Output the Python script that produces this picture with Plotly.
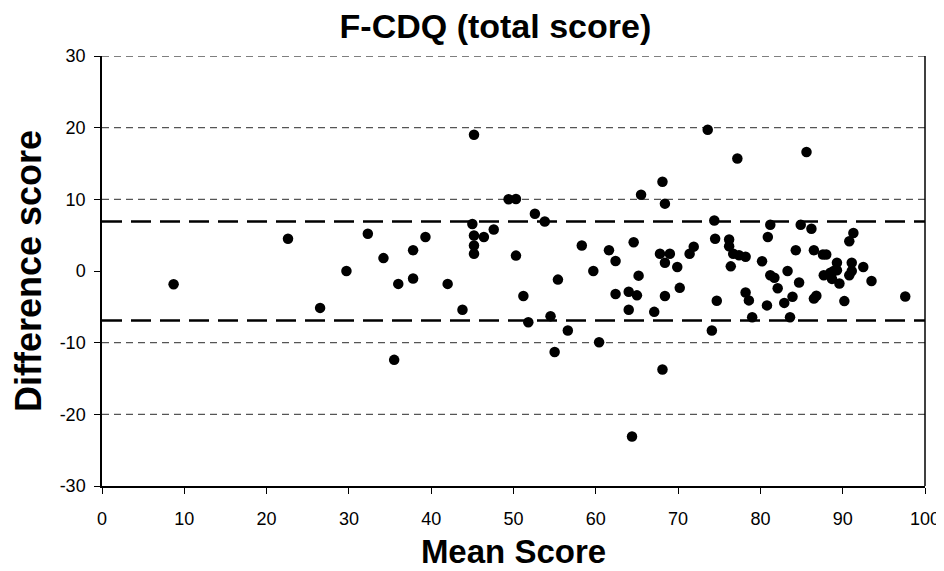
import plotly.graph_objects as go

mean_score = [8.7, 22.6, 26.5, 29.7, 32.3, 34.2, 35.5, 36.0, 37.8, 37.8, 39.3, 42.0, 43.8,
              45.0, 45.2, 45.2, 45.2, 45.2, 46.4, 47.6, 49.4, 50.3, 50.3, 51.2, 51.8, 52.6,
              53.8, 54.5, 55.0, 55.4, 56.6, 58.3, 59.7, 60.4, 61.6, 62.4, 62.4, 64.0, 64.0,
              64.4, 64.6, 65.0, 65.2, 65.5, 67.1, 67.8, 68.1, 68.1, 68.4, 68.4, 68.4, 69.0,
              69.9, 70.2, 71.4, 71.9, 73.6, 74.1, 74.4, 74.5, 74.7, 76.2, 76.2, 76.4, 76.7,
              77.2, 77.4, 78.2, 78.2, 78.6, 79.0, 80.2, 80.8, 80.9, 81.2, 81.2, 81.7, 82.1,
              82.9, 83.3, 83.6, 83.9, 84.3, 84.7, 84.9, 85.6, 86.2, 86.5, 86.5, 86.8, 87.6,
              87.7, 88.0, 88.5, 88.7, 88.9, 89.3, 89.3, 89.6, 90.2, 90.8, 90.8, 91.1, 91.1,
              91.3, 92.5, 93.5, 97.6]
diff_score = [-1.85, 4.5, -5.15, 0.0, 5.2, 1.8, -12.4, -1.8, 2.9, -1.05, 4.75, -1.8, -5.4,
              6.55, 19.0, 4.95, 3.55, 2.4, 4.75, 5.8, 10.0, 10.05, 2.15, -3.5, -7.15, 8.0,
              6.9, -6.3, -11.3, -1.2, -8.3, 3.55, 0.0, -9.95, 2.9, 1.4, -3.2, -2.9, -5.4,
              -23.1, 4.0, -3.4, -0.65, 10.65, -5.7, 2.4, 12.45, -13.75, 9.4, 1.15, -3.5, 2.4,
              0.55, -2.35, 2.4, 3.4, 19.7, -8.3, 7.05, 4.5, -4.15, 4.4, 3.45, 0.65, 2.4,
              15.7, 2.2, 2.0, -3.0, -4.1, -6.45, 1.35, -4.8, 4.75, 6.45, -0.6, -0.95, -2.4,
              -4.45, 0.0, -6.45, -3.6, 2.9, -1.6, 6.45, 16.6, 5.9, 2.9, -3.85, -3.45, 2.3,
              -0.6, 2.3, -0.25, -1.1, 0.0, 1.15, 0.1, -1.75, -4.2, 4.15, -0.6, 1.15, 0.0,
              5.3, 0.55, -1.4, -3.55]

limits = [6.9, -6.9]
grid_values = [30, 20, 10, -10, -20]
x_ticks = list(range(0, 101, 10))
y_ticks = list(range(-30, 31, 10))
y_tick_text = [str(v) for v in y_ticks]

fig = go.Figure()
fig.add_trace(go.Scatter(x=mean_score, y=diff_score, mode="markers",
                         marker=dict(color="black", size=10.5), showlegend=False))

shapes = []
for g in grid_values:
    shapes.append(dict(type="line", xref="x", yref="y", x0=0, x1=100, y0=g, y1=g,
                       line=dict(color="#555555", width=1.4, dash="7px,5px"), layer="below"))
for lim in limits:
    shapes.append(dict(type="line", xref="x", yref="y", x0=0, x1=100, y0=lim, y1=lim,
                       line=dict(color="black", width=2.4, dash="20px,9px")))
shapes.append(dict(type="line", xref="paper", yref="paper", x0=1, x1=1, y0=0, y1=1,
                   line=dict(color="black", width=1.5)))
fig.update_layout(shapes=shapes)

font = "Liberation Sans, Arial, sans-serif"
fig.update_layout(
    width=944, height=571,
    margin=dict(l=94, r=27, t=48, b=93),
    paper_bgcolor="white", plot_bgcolor="white",
    title=dict(text="<b>F-CDQ (total score)</b>", x=0.478, xref="paper", xanchor="center",
               y=0.968, yanchor="middle",
               font=dict(family=font, size=34, color="black")),
    xaxis=dict(range=[0, 100], tickvals=x_ticks, showgrid=False, zeroline=False,
               showline=True, linecolor="black", linewidth=1.5, automargin=False,
               ticks="outside", ticklen=6, tickcolor="black", tickwidth=1,
               ticklabelstandoff=10,
               tickfont=dict(family=font, size=18, color="black"),
               title=dict(text="<b>Mean Score</b>", standoff=12,
                          font=dict(family=font, size=33, color="black"))),
    yaxis=dict(range=[-30, 30], tickvals=y_ticks, ticktext=y_tick_text,
               showgrid=False, zeroline=False, automargin=False,
               showline=True, linecolor="black", linewidth=1.5,
               ticks="outside", ticklen=6, tickcolor="black", tickwidth=1,
               ticklabelstandoff=5,
               tickfont=dict(family=font, size=18, color="black"),
               title=dict(text="<b>Difference score</b>", standoff=12,
                          font=dict(family=font, size=36, color="black"))),
)

fig.write_html("out.html")
